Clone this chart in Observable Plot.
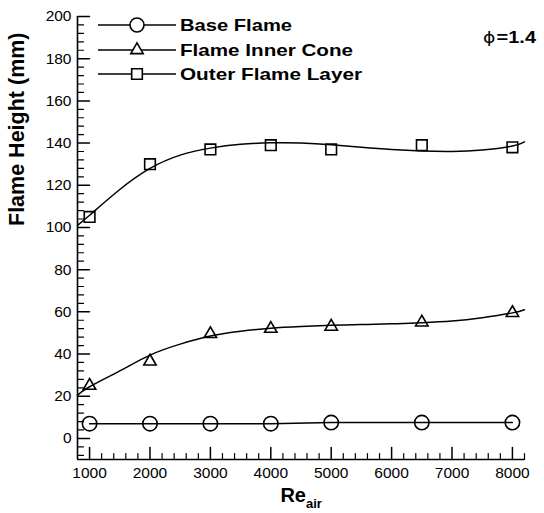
<!DOCTYPE html>
<html><head><meta charset="utf-8">
<script src="https://cdn.jsdelivr.net/npm/d3@7"></script>
<script src="https://cdn.jsdelivr.net/npm/@observablehq/plot@0.6"></script>
<style>
body{margin:0;background:#fff;}
#chart{position:relative;width:544px;height:513px;}
#chart svg{display:block;}
#overlay{position:absolute;left:0;top:0;pointer-events:none;}
</style></head><body><div id="chart"></div>
<script>
// ---- data ----
const reynolds   = [1000, 2000, 3000, 4000, 5000, 6500, 8000];
const baseFlame  = [7, 7, 7, 7, 7.5, 7.5, 7.5];
const innerCone  = [25, 36.5, 49.5, 52, 53, 55, 59.5];
const outerLayer = [105, 130, 137, 139, 137, 139, 138];
// fitted curves at these Re values
const fitRe      = [800, 1000, 1500, 2000, 2500, 3000, 3500, 4000, 4500, 5000, 5500, 6000, 6500, 7000, 7500, 8000, 8200];
const innerFit   = [20.5, 24.5, 32, 39.5, 44.7, 48.5, 50.8, 52.2, 53, 53.6, 54, 54.3, 54.8, 55.6, 57.2, 59.5, 61];
const outerFit   = [101, 105.8, 118, 128, 134.3, 137.6, 139.4, 140.1, 140, 139.2, 138, 136.9, 136.2, 136, 136.7, 138.6, 140.6];
const seriesNames = ["Base Flame", "Flame Inner Cone", "Outer Flame Layer"];
const xDomain = [800, 8200];
const yDomain = [-10, 200];
const xMajor = [1000, 2000, 3000, 4000, 5000, 6000, 7000, 8000];
const yMajor = [0, 20, 40, 60, 80, 100, 120, 140, 160, 180, 200];
const xMinor = d3.range(1200, 8201, 200).filter(v => v % 1000 !== 0);
const yMinor = d3.range(-8, 200, 4).filter(v => v % 20 !== 0);

const pts = (xs, ys) => xs.map((x, i) => ({x, y: ys[i]}));
const baseData = pts(reynolds, baseFlame);
const innerData = pts(reynolds, innerCone);
const outerData = pts(reynolds, outerLayer);
const innerCurve = pts(fitRe, innerFit);
const outerCurve = pts(fitRe, outerFit);

const tickShape = {draw(ctx, l) { ctx.moveTo(0, 0); ctx.lineTo(0, -l); }};
const FONT = "'Liberation Sans', Arial, Helvetica, sans-serif";

const plot = Plot.plot({
  width: 544, height: 513,
  marginLeft: 77, marginRight: 20, marginTop: 16, marginBottom: 54,
  x: {domain: xDomain},
  y: {domain: yDomain},
  style: {fontFamily: FONT, color: "#000", background: "white", overflow: "visible"},
  marks: [
    Plot.ruleX([xDomain[0]], {x: d => d, stroke: "black", strokeWidth: 1.6}),
    Plot.ruleY([yDomain[0]], {y: d => d, stroke: "black", strokeWidth: 1.6}),
    Plot.vector(xMajor, {x: d => d, y: () => yDomain[0], length: 12, rotate: 0, anchor: "start", shape: tickShape, stroke: "black", strokeWidth: 1.5}),
    Plot.vector(xMinor, {x: d => d, y: () => yDomain[0], length: 6, rotate: 0, anchor: "start", shape: tickShape, stroke: "black", strokeWidth: 1.2}),
    Plot.vector(yMajor, {x: () => xDomain[0], y: d => d, length: 12, rotate: 90, anchor: "start", shape: tickShape, stroke: "black", strokeWidth: 1.5}),
    Plot.vector(yMinor, {x: () => xDomain[0], y: d => d, length: 6, rotate: 90, anchor: "start", shape: tickShape, stroke: "black", strokeWidth: 1.2}),
    Plot.axisX({ticks: xMajor, tickSize: 0, tickPadding: 7, fontSize: 15.5, label: null, tickFormat: d => String(d)}),
    Plot.axisY({ticks: yMajor, tickSize: 0, tickPadding: 6, fontSize: 15.5, label: null, tickFormat: d => String(d)}),
    Plot.line(baseData, {x: "x", y: "y", stroke: "black", strokeWidth: 1.5}),
    Plot.line(innerCurve, {x: "x", y: "y", curve: "natural", stroke: "black", strokeWidth: 1.5}),
    Plot.line(outerCurve, {x: "x", y: "y", curve: "natural", stroke: "black", strokeWidth: 1.5}),
    Plot.dot(baseData, {x: "x", y: "y", r: 7.2, symbol: "circle", stroke: "black", fill: "none", strokeWidth: 1.6}),
    Plot.dot(innerData, {x: "x", y: "y", r: 4.6, symbol: "triangle", stroke: "black", fill: "none", strokeWidth: 1.6}),
    Plot.dot(outerData, {x: "x", y: "y", r: 6, symbol: "square", stroke: "black", fill: "none", strokeWidth: 1.6}),
    Plot.text(["Flame Height (mm)"], {frameAnchor: "left", rotate: -90, dx: -54, dy: -12, lineAnchor: "bottom", fontSize: 21.5, fontWeight: "bold", fill: "black"}),
    Plot.text(["Re"], {frameAnchor: "bottom", dx: 5, dy: 42, textAnchor: "end", lineAnchor: "bottom", fontSize: 20, fontWeight: "bold", fill: "black"}),
    Plot.text(["air"], {frameAnchor: "bottom", dx: 5, dy: 48, textAnchor: "start", lineAnchor: "bottom", fontSize: 13, fontWeight: "bold", fill: "black"})
  ]
});
document.getElementById("chart").appendChild(plot);

// ---- legend and annotation overlay ----
const ov = d3.select("#chart").append("svg").attr("id", "overlay")
  .attr("width", 544).attr("height", 513)
  .style("font-family", FONT);
const legendSymbols = [d3.symbolCircle, d3.symbolTriangle, d3.symbolSquare];
const legendSizes = [Math.PI * 49, Math.PI * 4.6 * 4.6, Math.PI * 36];
const legendWidths = [112, 173, 182];
const rowY = [25, 50, 74];
seriesNames.forEach((name, i) => {
  const g = ov.append("g");
  g.append("line").attr("x1", 98).attr("x2", 176).attr("y1", rowY[i]).attr("y2", rowY[i])
    .attr("stroke", "black").attr("stroke-width", 1.5);
  g.append("path").attr("d", d3.symbol(legendSymbols[i], legendSizes[i])())
    .attr("transform", `translate(137,${rowY[i]})`)
    .attr("fill", "white").attr("stroke", "black").attr("stroke-width", 1.6);
  g.append("text").attr("x", 180).attr("y", rowY[i] + 6)
    .attr("font-size", 17).attr("font-weight", "bold")
    .attr("textLength", legendWidths[i]).attr("lengthAdjust", "spacingAndGlyphs")
    .text(name);
});
const phi = ov.append("text").attr("x", 483).attr("y", 43).attr("font-size", 17)
  .attr("textLength", 53).attr("lengthAdjust", "spacingAndGlyphs");
phi.append("tspan").attr("font-family", "'DejaVu Sans', sans-serif").attr("font-size", 16).text("\u03D5");
phi.append("tspan").attr("font-weight", "bold").attr("dx", 1).text("=1.4");
</script></body></html>
